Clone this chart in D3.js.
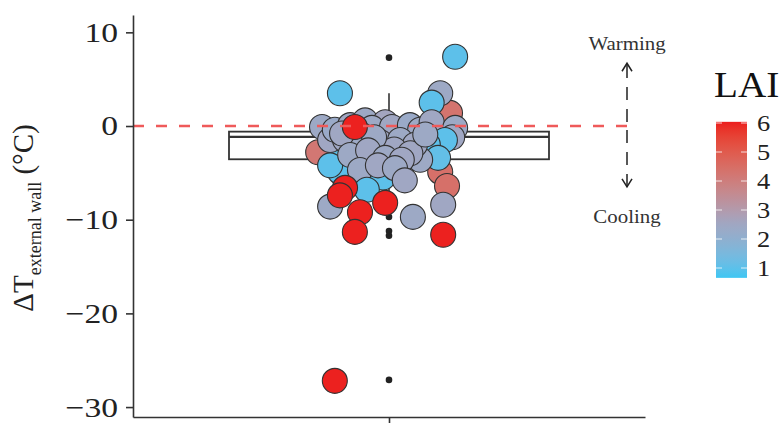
<!DOCTYPE html>
<html>
<head>
<meta charset="utf-8">
<script src="https://cdn.jsdelivr.net/npm/d3@7"></script>
<style>
  html, body { margin: 0; padding: 0; background: #fff; }
  svg { display: block; font-family: "Liberation Serif", "Times New Roman", serif; }
</style>
</head>
<body>
<svg id="chart" width="781" height="434"></svg>
<script>
// Jittered observations: horizontal jitter (category units), temperature change, LAI
const jitterX = [
  -0.150, -0.131, -0.166, -0.157, -0.138, -0.127, -0.091, -0.056, -0.009, -0.040,
   0.007,  0.049,  0.073,  0.131,  0.143,  0.120,  0.100,  0.100,  0.155,  0.148,
   0.131,  0.120,  0.136,  0.091,  0.115,  0.073, -0.103, -0.063, -0.021,  0.026,
   0.061, -0.115, -0.138, -0.091, -0.049, -0.009,  0.030, -0.014, -0.068, -0.026,
   0.014,  0.037, -0.052, -0.138,  0.056,  0.127, -0.103, -0.115, -0.068, -0.080,
  -0.009,  0.127, -0.127, -0.080,  0.155, -0.115, -0.080,  0.012, -0.035,  0.050,
   0.085, -0.110
];
const deltaT = [
  -2.6, -3.6, -2.8, -0.1, -1.5, -0.4,  0.1,  0.6,  0.4, -0.2,
  -0.1,  0.1, -0.4,  0.1,  1.4,  3.5,  2.5,  0.4, -0.2, -1.2,
  -1.5, -4.9, -6.4, -2.0, -3.4, -3.6, -1.5, -1.0, -1.7, -1.5,
  -2.0, -4.9, -4.2, -3.1, -2.6, -3.4, -3.6, -5.5, -4.7, -4.2,
  -4.5, -5.8, -6.8, -8.6, -9.7, -8.4, -6.6, -7.4, -9.2, -11.3,
  -8.2, -11.6, -27.2, -0.1, 7.4, 3.5, -2.2, -2.5, -1.2, -2.9,
  -0.9, -0.8
];
const lai = [
  1.0, 1.0, 4.2, 2.4, 2.5, 2.3, 2.5, 2.4, 2.6, 2.4,
  2.5, 2.3, 2.4, 4.3, 4.3, 2.4, 1.0, 2.5, 2.4, 2.5,
  1.0, 4.4, 4.4, 1.0, 1.1, 2.4, 2.5, 2.4, 2.5, 2.4,
  2.5, 1.0, 1.0, 2.4, 2.5, 2.4, 2.5, 1.0, 2.4, 2.5,
  2.4, 2.5, 1.0, 2.4, 2.4, 2.5, 6.0, 6.0, 6.0, 6.0,
  6.0, 6.0, 6.0, 6.0, 1.0, 1.0, 2.4, 2.5, 2.4, 2.5,
  2.4, 2.5
];
// The last few grey points sit mid-cluster; draw them before the highlighted ones
const drawOrder = d3.range(deltaT.length).sort((a, b) => {
  const ra = a >= 56 ? 30.5 : a, rb = b >= 56 ? 30.5 : b;
  return ra - rb;
});

// Box-plot summary
const boxStats = { lowerWhisker: -8.0, q1: -3.55, median: -1.15, q3: -0.6, upperWhisker: 3.5 };
const outliers = [7.3, -9.7, -11.2, -11.7, -27.1];

// Axis ticks and legend
const yTicks = [-30, -20, -10, 0, 10];
const laiTicks = [1, 2, 3, 4, 5, 6];
const laiRange = [0.66, 6.04];

const svg = d3.select("#chart");

const y = d3.scaleLinear().domain([-31.06, 11.85]).range([417, 15]);
const x = d3.scaleLinear().domain([0.4, 1.6]).range([133, 645]);
const cx = 1; // single category position

const color = d3.scaleLinear()
  .domain([laiRange[0], 2.6, laiRange[1]])
  .range(["#3ec6f3", "#a3a5c0", "#ec1d1d"])
  .interpolate(d3.interpolateLab);

// Stretch a text element horizontally about its anchor point
function widen(sel, k) {
  sel.each(function () {
    const t = d3.select(this);
    const tx = +t.attr("x") || 0, ty = +t.attr("y") || 0;
    t.attr("x", 0).attr("y", 0)
      .attr("transform", `translate(${tx},${ty}) scale(${k},1)`);
  });
}

// Box plot
const boxW = 0.75;
const g = svg.append("g");
g.append("line")
  .attr("x1", x(cx)).attr("x2", x(cx))
  .attr("y1", y(boxStats.q3)).attr("y2", y(boxStats.upperWhisker))
  .attr("stroke", "#333").attr("stroke-width", 1.6);
g.append("line")
  .attr("x1", x(cx)).attr("x2", x(cx))
  .attr("y1", y(boxStats.q1)).attr("y2", y(boxStats.lowerWhisker))
  .attr("stroke", "#333").attr("stroke-width", 1.6);
g.append("rect")
  .attr("x", x(cx - boxW / 2)).attr("width", x(cx + boxW / 2) - x(cx - boxW / 2))
  .attr("y", y(boxStats.q3)).attr("height", y(boxStats.q1) - y(boxStats.q3))
  .attr("fill", "#fff").attr("stroke", "#333").attr("stroke-width", 1.8);
g.append("line")
  .attr("x1", x(cx - boxW / 2)).attr("x2", x(cx + boxW / 2))
  .attr("y1", y(boxStats.median)).attr("y2", y(boxStats.median))
  .attr("stroke", "#333").attr("stroke-width", 2.2);
g.selectAll("circle.out").data(outliers).join("circle")
  .attr("class", "out")
  .attr("cx", x(cx)).attr("cy", d => y(d)).attr("r", 3.3)
  .attr("fill", "#222");

// Jittered points
const pts = drawOrder.map(i => ({ j: jitterX[i], v: deltaT[i], lai: lai[i] }));
svg.append("g").selectAll("circle").data(pts).join("circle")
  .attr("cx", d => x(cx + d.j))
  .attr("cy", d => y(d.v))
  .attr("r", 12.5)
  .attr("fill", d => color(d.lai))
  .attr("stroke", "#333")
  .attr("stroke-width", 1.1);

// Zero reference line
svg.append("line")
  .attr("x1", x(0.4)).attr("x2", 628)
  .attr("y1", y(0)).attr("y2", y(0))
  .attr("stroke", "#ef5a5a").attr("stroke-width", 2.5)
  .attr("stroke-dasharray", "11,12");

// Axes
const yAxis = d3.axisLeft(y).tickValues(yTicks).tickSize(7).tickSizeOuter(0).tickPadding(8)
  .tickFormat(d => d < 0 ? "\u2212" + Math.abs(d) : String(d));
const ya = svg.append("g").attr("transform", `translate(${x(0.4)},0)`).call(yAxis);
ya.selectAll("text").attr("font-size", 28).attr("fill", "#222")
  .attr("font-family", "Liberation Serif");
widen(ya.selectAll(".tick text"), 1.2);
ya.selectAll("line, path").attr("stroke", "#333").attr("stroke-width", 1.6);

const xAxis = d3.axisBottom(x).tickValues([cx]).tickSize(6).tickSizeOuter(0).tickFormat("");
const xa = svg.append("g").attr("transform", `translate(0,${y.range()[0]})`).call(xAxis);
xa.selectAll("line, path").attr("stroke", "#333").attr("stroke-width", 1.6);

// Y-axis title
const yt = svg.append("text")
  .attr("transform", `translate(33,${(y.range()[0] + y.range()[1]) / 2 + 2}) rotate(-90)`)
  .attr("text-anchor", "middle")
  .attr("fill", "#222");
yt.append("tspan").attr("font-size", 29).text("\u0394T");
yt.append("tspan").attr("font-size", 18).attr("dy", 8).text("external wall");
yt.append("tspan").attr("font-size", 29).attr("dy", -8).text(" (\u00b0C)");

// Warming / cooling annotation
const ax = 627;
const ann = svg.append("g").attr("stroke", "#222").attr("stroke-width", 1.5).attr("fill", "none");
ann.append("line").attr("x1", ax).attr("x2", ax).attr("y1", y(0) - 4).attr("y2", y(6.7))
  .attr("stroke-dasharray", "13,9");
ann.append("line").attr("x1", ax).attr("x2", ax).attr("y1", y(0) + 4).attr("y2", y(-6.5))
  .attr("stroke-dasharray", "13,9");
ann.append("path").attr("d", `M${ax - 5},${y(6.7) + 8} L${ax},${y(6.7)} L${ax + 5},${y(6.7) + 8}`);
ann.append("path").attr("d", `M${ax - 5},${y(-6.5) - 8} L${ax},${y(-6.5)} L${ax + 5},${y(-6.5) - 8}`);
const annText = svg.append("g").attr("font-size", 19).attr("fill", "#333").attr("text-anchor", "middle");
annText.append("text").attr("x", ax).attr("y", 50).text("Warming");
annText.append("text").attr("x", ax).attr("y", 223).text("Cooling");
widen(annText.selectAll("text"), 1.1);

// LAI colour bar
const ly = d3.scaleLinear().domain([1, 6]).range([268, 123]);
const defs = svg.append("defs");
const grad = defs.append("linearGradient").attr("id", "laiGrad")
  .attr("x1", 0).attr("x2", 0).attr("y1", 1).attr("y2", 0);
d3.range(0, 1.0001, 0.05).forEach(t => {
  const v = laiRange[0] + t * (laiRange[1] - laiRange[0]);
  grad.append("stop").attr("offset", t).attr("stop-color", color(v));
});
const barX = 716, barW = 31;
svg.append("rect")
  .attr("x", barX).attr("width", barW)
  .attr("y", ly(laiRange[1])).attr("height", ly(laiRange[0]) - ly(laiRange[1]))
  .attr("fill", "url(#laiGrad)");
const lt = svg.append("g");
laiTicks.forEach(t => {
  lt.append("line").attr("x1", barX).attr("x2", barX + 6).attr("y1", ly(t)).attr("y2", ly(t))
    .attr("stroke", "#fff").attr("stroke-width", 1).attr("opacity", 0.8);
  lt.append("line").attr("x1", barX + barW - 6).attr("x2", barX + barW).attr("y1", ly(t)).attr("y2", ly(t))
    .attr("stroke", "#fff").attr("stroke-width", 1).attr("opacity", 0.8);
  lt.append("text").attr("x", 757).attr("y", ly(t) + 8)
    .attr("font-size", 24).attr("fill", "#222").text(t);
});
widen(lt.selectAll("text"), 1.1);
const title = svg.append("text").attr("x", 714).attr("y", 97).attr("font-size", 35).attr("fill", "#111").text("LAI");
widen(title, 1.12);
</script>
</body>
</html>
